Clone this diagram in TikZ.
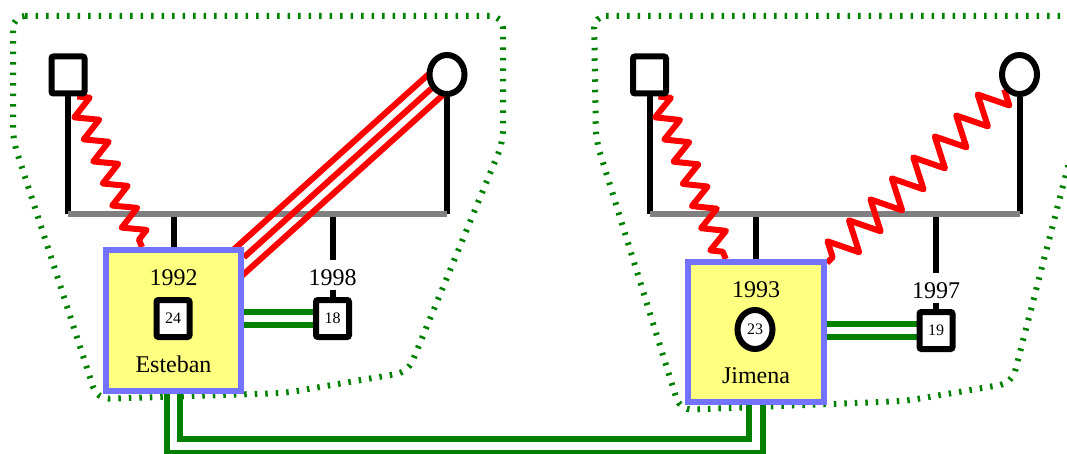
\documentclass[tikz,border=0pt]{standalone}
\usepackage{fontspec}
\setmainfont{Liberation Serif}
\usetikzlibrary{calc,decorations.pathmorphing,shapes.geometric,backgrounds}

\definecolor{kinred}{RGB}{255,0,0}
\definecolor{hullgreen}{RGB}{0,128,0}
\definecolor{bargray}{RGB}{128,128,128}
\definecolor{boxblue}{RGB}{115,115,255}
\definecolor{boxyellow}{RGB}{255,255,128}

\begin{document}
\begin{tikzpicture}[x=1pt,y=-1pt,
  male/.style={draw=black, line width=6pt, fill=white, rectangle, rounded corners=2pt,
    minimum width=33pt, minimum height=37pt, inner sep=0pt, font=\fontsize{16}{16}\selectfont},
  female/.style={draw=black, line width=6pt, fill=white, ellipse,
    minimum width=35pt, minimum height=39pt, inner sep=0pt, font=\fontsize{16}{16}\selectfont},
  personbox/.style={draw=boxblue, fill=boxyellow, line width=6pt, rectangle,
    minimum width=135pt, minimum height=141pt, inner sep=0pt},
  lbl/.style={font=\fontsize{24}{24}\selectfont, inner sep=0pt, anchor=base},
  yearlbl/.style={lbl, text height=21pt, text depth=1pt, inner ysep=3.5pt, inner xsep=0pt},
  descent/.style={draw=black, line width=6pt},
  sibship/.style={draw=bargray, line width=6.5pt},
  zig/.style={draw=kinred, line width=6pt, line join=round, decorate,
    decoration={zigzag, segment length=24pt, amplitude=11pt}},
  zigwide/.style={draw=kinred, line width=6pt, line join=round, decorate,
    decoration={zigzag, segment length=30pt, amplitude=15pt}},
  tripleline/.style={draw=kinred, line width=6pt},
  kinship/.style={draw=hullgreen, line width=6pt, double=white, double distance=7.5pt},
  hull/.style={draw=hullgreen, line width=6pt, dash pattern=on 2.5pt off 8pt, rounded corners=12pt}
]
\clip (0,0) rectangle (1067,454);

% ---------- family of Esteban ----------
\node[male]   (f1) at (68,75) {};
\node[female] (m1) at (447,74.5) {};
\node[personbox] (e1) at (173.5,320.5) {};
\node[lbl] (e1year) at (173.5,285) {1992};
\node[male] (e1sym) at (173,318.5) {24};
\node[lbl] (e1name) at (173.5,372) {Esteban};
\node[male] (s18) at (332.5,318.5) {18};
\node[yearlbl] (y1998) at (332.5,285) {1998};
\coordinate (u1) at (0,214);

% ---------- family of Jimena ----------
\node[male]   (f2) at (649.5,75) {};
\node[female] (m2) at (1019.5,74.5) {};
\node[personbox, minimum width=136pt, minimum height=140pt] (j1) at (756,332) {};
\node[lbl] (j1year) at (756,297) {1993};
\node[female] (j1sym) at (755,329.5) {23};
\node[lbl] (j1name) at (756,383) {Jimena};
\node[male] (s19) at (936,330.5) {19};
\node[yearlbl] (y1997) at (936,298) {1997};
\coordinate (u2) at (0,214);
\coordinate (busy) at (0,446);

\begin{scope}[on background layer]
  % household outlines
  \draw[hull] (13,16) -- (503,16) -- (503,142) -- (408,372) -- (285,393)
              -- (97,399) -- (13,140) -- cycle;
  \draw[hull] (594,16) -- (1080,16) -- (1080,120) -- (1012,383) -- (905,401)
              -- (680,410) -- (596,140) -- cycle;

  % parents down to the sibship bar
  \draw[descent] (f1) -- (f1 |- u1);
  \draw[descent] (m1) -- (m1 |- u1);
  \draw[descent] (f2) -- (f2 |- u2);
  \draw[descent] (m2) -- (m2 |- u2);

  % children hanging from the bar
  \draw[descent] (e1 |- u1) -- (e1);
  \draw[descent] (y1998 |- u1) -- (y1998);
  \draw[descent] (y1998) -- (s18);
  \draw[descent] (j1 |- u2) -- (j1);
  \draw[descent] (y1997 |- u2) -- (y1997);
  \draw[descent] (y1997) -- (s19);

  % sibship bars
  \draw[sibship] (f1 |- u1) -- (m1 |- u1);
  \draw[sibship] (f2 |- u2) -- (m2 |- u2);

  % emotional relationships
  \draw[zig] (f1) -- (e1);
  \draw[tripleline] (m1) -- (e1);
  \draw[tripleline] ($(m1)!12.5pt!90:(e1)$) -- ($(e1)!12.5pt!-90:(m1)$);
  \draw[tripleline] ($(m1)!12.5pt!-90:(e1)$) -- ($(e1)!12.5pt!90:(m1)$);
  \draw[zig] (f2) -- (j1);
  \draw[zigwide] (m2) -- (j1);

  % close bonds
  \draw[kinship] (e1.east |- s18) -- (s18);
  \draw[kinship] (j1.east |- s19) -- (s19);
  \draw[kinship] (e1.south) -- (e1.south |- busy) -| (j1.south);
\end{scope}
\end{tikzpicture}
\end{document}
